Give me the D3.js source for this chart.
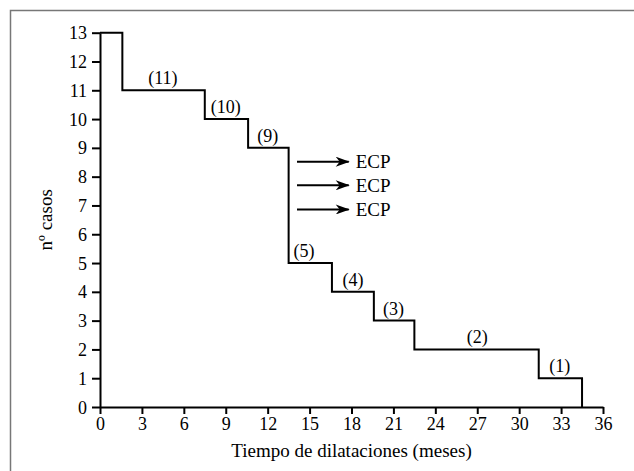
<!DOCTYPE html>
<html>
<head>
<meta charset="utf-8">
<script src="https://cdn.jsdelivr.net/npm/d3@7"></script>
<style>
	body { margin: 0; background: #fff; }
	svg text { font-family: "Liberation Serif", "Times New Roman", "DejaVu Serif", serif; fill: #000; }
</style>
</head>
<body>
<div id="graph"></div>
<script>
// step times (months) where the number of cases changes, and the count from that time on
var stepTimes = [0, 1.6, 7.5, 10.6, 13.5, 16.6, 19.6, 22.5, 31.4];
var stepCases = [13, 11, 10, 9, 5, 4, 3, 2, 1];
var endTime = 34.5;

// "(n)" labels over each step
var labelValues = [11, 10, 9, 5, 4, 3, 2, 1];
var labelTimes = [4.5, 9.0, 12.0, 14.6, 18.1, 21.0, 27.0, 32.9];

// arrows to ECP
var ecpLevels = [8.52, 7.7, 6.86];
var ecpFrom = 14.1, ecpTo = 17.8;

var xTicks = [0, 3, 6, 9, 12, 15, 18, 21, 24, 27, 30, 33, 36];
var yTicks = [0, 1, 2, 3, 4, 5, 6, 7, 8, 9, 10, 11, 12, 13];

var w = 634, h = 471;
var svg = d3.select("div#graph").append("svg")
	.attr("width", w)
	.attr("height", h);

// outer frame (only left and top edges fall inside the picture)
svg.append("rect")
	.attr("x", 10.5).attr("y", 10.5)
	.attr("width", 700).attr("height", 600)
	.attr("fill", "none")
	.attr("stroke", "#777")
	.attr("stroke-width", 1.5);

var x = d3.scaleLinear().domain([0, 36]).range([100, 603]);
var y = d3.scaleLinear().domain([0, 13]).range([407, 32.7]);

// axes
var xAxis = svg.append("g")
	.attr("transform", "translate(0," + y(0) + ")")
	.call(d3.axisBottom(x).tickValues(xTicks).tickSize(7).tickPadding(3).tickSizeOuter(0));
var yAxis = svg.append("g")
	.attr("transform", "translate(" + x(0) + ",0)")
	.call(d3.axisLeft(y).tickValues(yTicks).tickSize(8).tickPadding(5).tickSizeOuter(0));

[xAxis, yAxis].forEach(function(a) {
	a.select(".domain").attr("stroke", "#000").attr("stroke-width", 2);
	a.selectAll(".tick line").attr("stroke", "#000").attr("stroke-width", 2);
	a.selectAll(".tick text")
		.style("font-size", "18px")
		.attr("fill", "#000");
});
yAxis.selectAll(".tick text").attr("dy", "0.34em");

// axis titles
svg.append("text")
	.attr("x", (x(0) + x(36)) / 2)
	.attr("y", 457)
	.attr("text-anchor", "middle")
	.style("font-size", "19px")
	.text("Tiempo de dilataciones (meses)");
svg.append("text")
	.attr("transform", "translate(52," + ((y(0) + y(13)) / 2) + ") rotate(-90)")
	.attr("text-anchor", "middle")
	.style("font-size", "19px")
	.text("nº casos");

// step curve
var pts = stepTimes.map(function(t, i) { return [t, stepCases[i]]; });
pts.push([endTime, 0]);
var line = d3.line()
	.x(function(d) { return x(d[0]); })
	.y(function(d) { return y(d[1]); })
	.curve(d3.curveStepAfter);
svg.append("path")
	.datum(pts)
	.attr("d", line)
	.attr("fill", "none")
	.attr("stroke", "#000")
	.attr("stroke-width", 2);

// step labels
svg.selectAll("text.steplabel")
	.data(labelValues).enter().append("text")
	.attr("class", "steplabel")
	.attr("x", function(d, i) { return x(labelTimes[i]); })
	.attr("y", function(d) { return y(d) - 6; })
	.attr("text-anchor", "middle")
	.style("font-size", "18px")
	.text(function(d) { return "(" + d + ")"; });

// arrow head
svg.append("defs").append("marker")
	.attr("id", "head")
	.attr("viewBox", "0 0 14 10")
	.attr("refX", 13).attr("refY", 5)
	.attr("markerWidth", 15).attr("markerHeight", 10)
	.attr("markerUnits", "userSpaceOnUse")
	.attr("orient", "auto")
	.append("path")
	.attr("d", "M0,0 L14,5 L0,10 L4,5 Z")
	.attr("fill", "#000");

svg.selectAll("line.ecp")
	.data(ecpLevels).enter().append("line")
	.attr("class", "ecp")
	.attr("x1", x(ecpFrom)).attr("x2", x(ecpTo))
	.attr("y1", function(d) { return y(d); })
	.attr("y2", function(d) { return y(d); })
	.attr("stroke", "#000")
	.attr("stroke-width", 2)
	.attr("marker-end", "url(#head)");
svg.selectAll("text.ecp")
	.data(ecpLevels).enter().append("text")
	.attr("class", "ecp")
	.attr("x", x(ecpTo) + 7)
	.attr("y", function(d) { return y(d); })
	.attr("dy", "0.34em")
	.style("font-size", "19px")
	.text("ECP");
</script>
</body>
</html>
